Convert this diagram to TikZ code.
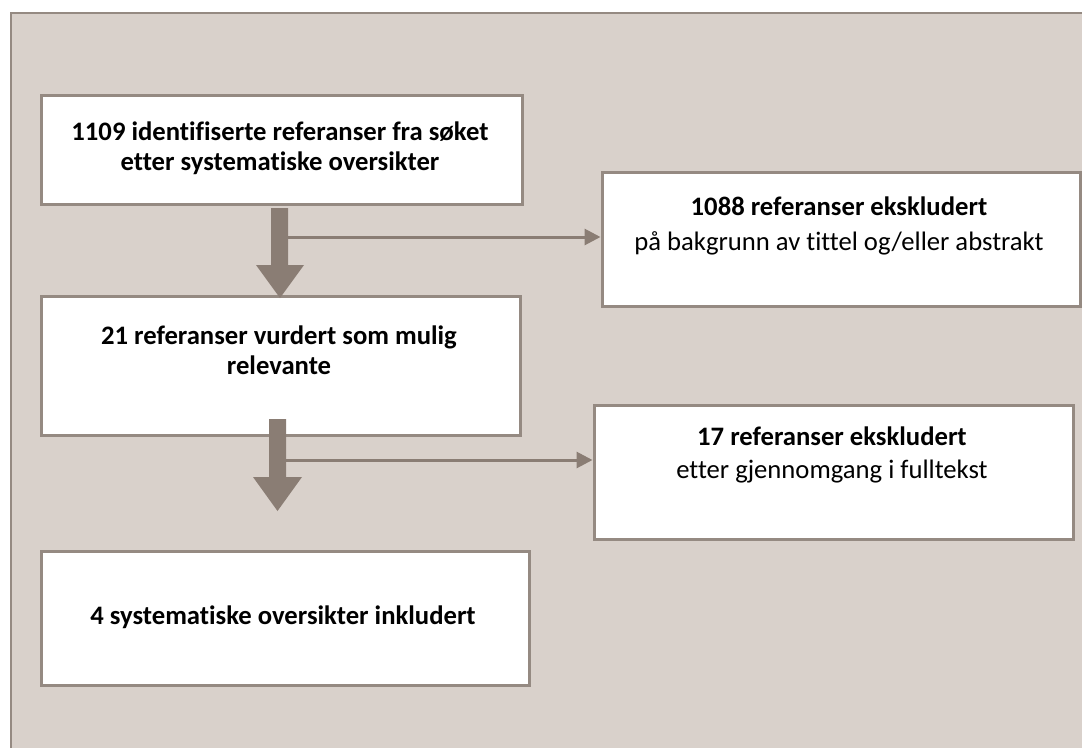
\documentclass[tikz,border=0pt]{standalone}
\usepackage{fontspec}
\setmainfont{Carlito}[Ligatures=NoCommon]
\usetikzlibrary{arrows.meta}
\definecolor{bg}{HTML}{D9D1CB}
\definecolor{frame}{HTML}{958A82}
\definecolor{arr}{HTML}{8A7D74}
\begin{document}
\begin{tikzpicture}[x=0.75pt,y=-0.75pt,
  box/.style={draw=frame, line width=2.25pt, fill=white, inner sep=0pt, anchor=north west},
  txt/.style={align=center, inner sep=0pt},
  thinarrow/.style={draw=arr, line width=2.25pt, -{Triangle[length=12pt,width=12pt]}},
  bigarrow/.style={fill=arr, draw=none}]
\useasboundingbox (0,0) rectangle (1082,747);
\fill[white] (0,0) rectangle (1082,747);
\draw[fill=bg, draw=frame, line width=1.5pt] (11,13) rectangle (1100,770);
% boxes
\node[box, minimum width=360.75pt, minimum height=81.75pt] (b1) at (39.5,93.5) {};
\node[box, minimum width=358.5pt, minimum height=100.5pt] (b2) at (600.5,170.5) {};
\node[box, minimum width=359.25pt, minimum height=104.25pt] (b3) at (39.5,294.5) {};
\node[box, minimum width=359.25pt, minimum height=100.5pt] (b4) at (592.5,403.5) {};
\node[box, minimum width=366pt, minimum height=100.5pt] (b5) at (39.5,549.5) {};
% texts
\node[txt, font=\fontsize{20}{22.5}\selectfont\bfseries] (t1) at (280,148) {1109 identifiserte referanser fra søket\\etter systematiske oversikter};
\node[txt, font=\fontsize{20}{22.5}\selectfont\bfseries] (t3) at (279,350) {21 referanser vurdert som mulig\\relevante};
\node[txt, font=\fontsize{20}{26}\selectfont] (t2) at (839,226) {\textbf{1088 referanser ekskludert}\\på bakgrunn av tittel og/eller abstrakt};
\node[txt, font=\fontsize{20}{25}\selectfont] (t4) at (832,455) {\textbf{17 referanser ekskludert}\\etter gjennomgang i fulltekst};
\node[txt, font=\fontsize{20}{22.5}\selectfont\bfseries] (t5) at (283,617) {4 systematiske oversikter inkludert};
% thin side arrows
\coordinate (s1) at (283,237);
\coordinate (s2) at (278,460);
\draw[thinarrow] (s1) -- (s1 -| b2.west);
\draw[thinarrow] (s2) -- (s2 -| b4.west);
% big down arrows
\fill[bigarrow] (271,208) -- (288,208) -- (288,265) -- (304,265) -- (280,298) -- (256,265) -- (271,265) -- cycle;
\fill[bigarrow] (269,419) -- (286,419) -- (286,477) -- (302,477) -- (277.5,511) -- (253,477) -- (269,477) -- cycle;
\end{tikzpicture}
\end{document}
